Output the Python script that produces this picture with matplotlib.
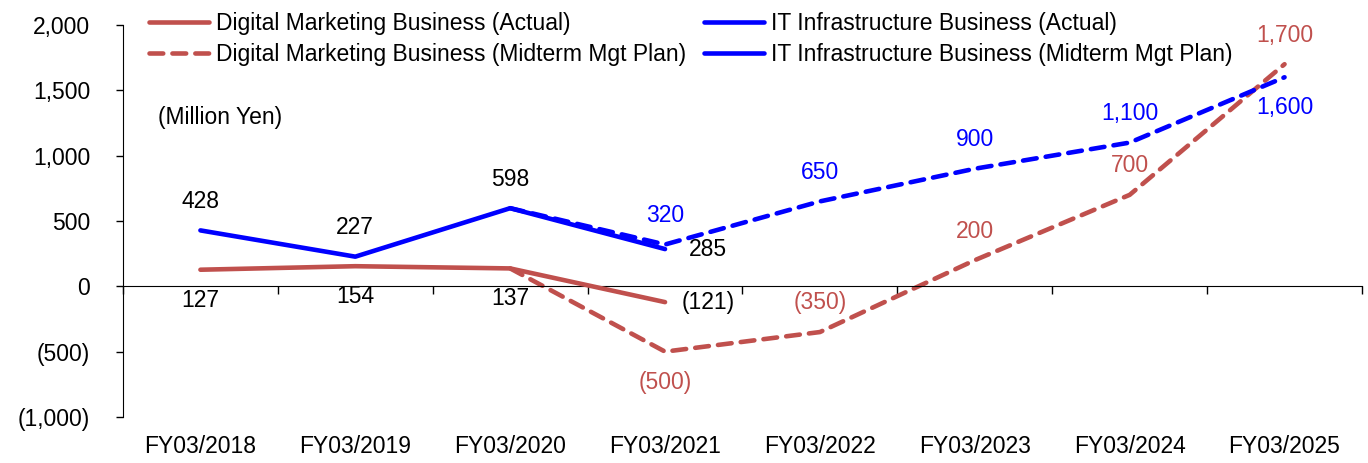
import matplotlib
matplotlib.use("Agg")
import matplotlib.pyplot as plt
import numpy as np
from matplotlib.lines import Line2D

plt.rcParams['font.family'] = ['Liberation Sans', 'DejaVu Sans']

# data (million yen)
years = ["FY03/2018", "FY03/2019", "FY03/2020", "FY03/2021",
         "FY03/2022", "FY03/2023", "FY03/2024", "FY03/2025"]
dm_actual = [127, 154, 137, -121]
it_actual = [428, 227, 598, 285]
# plan lines start from FY03/2020 actual
dm_plan = [137, -500, -350, 200, 700, 1700]
it_plan = [598, 320, 650, 900, 1100, 1600]
plan_start = 2

# where each data label sits relative to its point
dm_actual_pos = ['below', 'below', 'below', 'right']
it_actual_pos = ['above', 'above', 'above', 'right']
dm_plan_pos = [None, 'below', 'above', 'above', 'above', 'above']
it_plan_pos = [None, 'above', 'above', 'above', 'above', 'below']

RED = '#C0504D'
BLUE = '#0000FF'
FS = 16.5


def fmt(v):
    return f"({abs(v):,})" if v < 0 else f"{v:,}"


def label_points(ax, xs, ys, poss, color):
    for x, y, p in zip(xs, ys, poss):
        if p is None:
            continue
        if p == 'above':
            off = (0, 21)
        elif p == 'below':
            off = (0, -22)
        else:
            off = (31, 0)
        ax.annotate(fmt(y), (x, y), xytext=off, textcoords='offset points',
                    ha='center', va='center', fontsize=FS, color=color)


fig = plt.figure(figsize=(13.68, 4.63), dpi=100)
ax = fig.add_axes([0.0899, 0.0994, 0.9057, 0.8466])

x_act = np.arange(len(dm_actual))
x_plan = np.arange(plan_start, plan_start + len(dm_plan))
dash = (0, (3.0, 2.0))
LW = 3.3

ax.plot(x_plan, dm_plan, color=RED, lw=LW, ls=dash, dash_capstyle='round', zorder=2)
ax.plot(x_plan, it_plan, color=BLUE, lw=LW, ls=dash, dash_capstyle='round', zorder=2)
ax.plot(x_act, dm_actual, color=RED, lw=LW, solid_capstyle='round', zorder=3)
ax.plot(x_act, it_actual, color=BLUE, lw=LW, solid_capstyle='round', zorder=3)

label_points(ax, x_act, dm_actual, dm_actual_pos, 'black')
label_points(ax, x_act, it_actual, it_actual_pos, 'black')
label_points(ax, x_plan, dm_plan, dm_plan_pos, RED)
label_points(ax, x_plan, it_plan, it_plan_pos, BLUE)

ax.set_xlim(-0.5, len(years) - 0.5)
ax.set_ylim(-1000, 2000)
yt = np.arange(-1000, 2001, 500)
ax.set_yticks(yt)
ax.set_yticklabels([fmt(int(v)) for v in yt])
ax.tick_params(axis='y', direction='out', length=5, width=1, pad=18.5, labelsize=FS)

ax.spines['top'].set_visible(False)
ax.spines['right'].set_visible(False)
ax.spines['bottom'].set_position(('data', 0))
ax.set_xticks(np.arange(-0.5, len(years), 1.0))
ax.set_xticklabels([])
ax.tick_params(axis='x', direction='out', length=6, width=1)

for i, name in enumerate(years):
    ax.text(i, -0.075, name, transform=ax.get_xaxis_transform(),
            ha='center', va='center', fontsize=FS)

ax.text(0.028, 0.763, "(Million Yen)", transform=ax.transAxes,
        ha='left', va='center', fontsize=FS)

handles = [
    Line2D([], [], color=RED, lw=LW, solid_capstyle='round'),
    Line2D([], [], color=RED, lw=LW, ls=dash, dash_capstyle='round'),
    Line2D([], [], color=BLUE, lw=LW, solid_capstyle='round'),
    Line2D([], [], color=BLUE, lw=LW, solid_capstyle='round'),
]
labels = ["Digital Marketing Business (Actual)",
          "Digital Marketing Business (Midterm Mgt Plan)",
          "IT Infrastructure Business (Actual)",
          "IT Infrastructure Business (Midterm Mgt Plan)"]
fig.legend(handles, labels, loc='upper left', bbox_to_anchor=(0.094, 1.018),
           ncol=2, frameon=False, fontsize=FS, handlelength=2.6,
           handletextpad=0.3, columnspacing=0.8, labelspacing=0.35)

fig.savefig("out.png", dpi=100)
